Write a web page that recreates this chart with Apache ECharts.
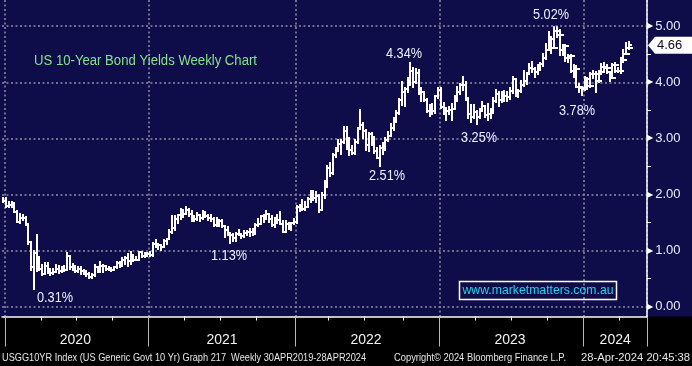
<!DOCTYPE html>
<html><head><meta charset="utf-8">
<script src="https://cdn.jsdelivr.net/npm/echarts/dist/echarts.min.js"></script>
<style>html,body{margin:0;padding:0;background:#000;}#c{width:692px;height:366px;}</style>
</head><body><div id="c"></div>
<script>
// ---------------- DATA ----------------
// weekly bars (Friday), first slot = week ending 27 Dec 2019
const firstWeekUTC = [2019, 11, 27];
const weekSlots = 233; // visible weekly slots on the axis (incl. empty ones to the right)

const open = [
1.92,
1.88,1.79,1.82,1.84,1.68,1.51,1.58,1.59,1.47,1.15,0.71,0.96,0.85,
0.68,0.59,0.73,0.65,0.60,0.62,0.68,0.64,0.66,0.65,0.90,0.70,0.70,
0.64,0.67,0.64,0.63,0.59,0.53,0.56,0.71,0.63,0.72,0.72,0.67,0.69,
0.66,0.70,0.78,0.74,0.84,0.87,0.82,0.89,0.83,0.84,0.97,0.90,0.95,
0.94,0.92,1.12,1.09,1.10,1.07,1.17,1.21,1.34,1.41,1.57,1.63,1.72,
1.66,1.72,1.66,1.58,1.56,1.63,1.58,1.63,1.62,1.59,1.56,1.45,1.45,
1.53,1.43,1.36,1.30,1.28,1.23,1.30,1.28,1.26,1.31,1.33,1.34,1.37,
1.46,1.47,1.61,1.57,1.65,1.56,1.45,1.58,1.54,1.48,1.34,1.48,1.40,
1.49,
1.51,1.77,1.78,1.75,1.78,1.92,1.92,1.93,1.97,1.73,2.00,2.15,2.48,
2.39,2.71,2.83,2.90,2.94,3.13,2.93,2.79,2.74,2.94,3.16,3.23,3.13,
2.88,3.08,2.93,2.77,2.65,2.83,2.84,2.98,3.04,3.19,3.32,3.45,3.69,
3.83,3.88,4.02,4.21,4.01,4.16,3.81,3.83,3.68,3.49,3.58,3.48,3.75,
3.87,3.56,3.51,3.48,3.50,3.53,3.74,3.82,3.95,3.96,3.70,3.43,3.38,
3.47,3.39,3.51,3.57,3.42,3.44,3.46,3.67,3.80,3.69,3.74,3.76,3.74,
3.84,4.06,3.83,3.84,3.95,4.03,4.15,4.25,4.24,4.18,4.26,4.33,4.43,
4.57,4.78,4.78,4.61,4.91,4.84,4.57,4.65,4.44,4.47,4.20,4.23,3.91,
3.90,
3.88,4.05,3.94,4.14,4.14,4.02,4.18,4.28,4.25,4.18,4.08,4.31,4.20,
4.20,4.40,4.50,4.62
];
const high = [
1.94,
1.93,1.87,1.86,1.85,1.70,1.66,1.64,1.60,1.47,1.16,1.00,1.28,0.89,
0.74,0.78,0.78,0.68,0.67,0.74,0.72,0.71,0.72,0.95,0.91,0.77,0.73,
0.70,0.70,0.66,0.63,0.60,0.58,0.75,0.71,0.79,0.74,0.73,0.71,0.69,
0.71,0.79,0.79,0.87,0.89,0.94,0.97,0.92,0.88,0.98,0.97,0.96,0.96,
0.97,1.13,1.19,1.12,1.10,1.19,1.21,1.36,1.61,1.62,1.64,1.75,1.73,
1.77,1.75,1.70,1.62,1.67,1.63,1.70,1.69,1.63,1.63,1.58,1.59,1.55,
1.54,1.44,1.42,1.32,1.30,1.31,1.37,1.30,1.35,1.35,1.38,1.39,1.48,
1.57,1.62,1.64,1.70,1.65,1.61,1.59,1.64,1.69,1.52,1.53,1.50,1.50,
1.56,
1.80,1.81,1.90,1.86,1.93,2.06,2.06,2.05,1.99,2.03,2.24,2.50,2.56,
2.73,2.83,2.98,2.98,3.20,3.20,3.00,2.87,2.97,3.18,3.50,3.28,3.15,
3.10,3.10,3.03,2.83,2.87,2.91,3.00,3.11,3.26,3.36,3.49,3.71,4.00,
3.90,4.08,4.34,4.26,4.23,4.22,3.89,3.83,3.70,3.60,3.61,3.76,3.90,
3.89,3.63,3.55,3.56,3.61,3.75,3.92,3.97,4.09,4.01,3.72,3.60,3.60,
3.49,3.53,3.64,3.57,3.61,3.53,3.72,3.86,3.82,3.82,3.84,3.82,3.89,
4.09,4.06,3.87,4.02,4.20,4.17,4.33,4.36,4.25,4.31,4.35,4.51,4.69,
4.89,4.80,5.00,5.02,4.93,4.67,4.67,4.49,4.48,4.30,4.29,3.97,3.91,
4.10,4.07,4.17,4.20,4.18,4.20,4.33,4.35,4.31,4.19,4.33,4.34,4.26,
4.43,4.58,4.70,4.71
];
const low = [
1.86,
1.77,1.77,1.78,1.68,1.51,1.50,1.55,1.45,1.11,0.66,0.31,0.64,0.66,
0.56,0.58,0.60,0.56,0.58,0.61,0.60,0.62,0.63,0.65,0.67,0.66,0.62,
0.62,0.58,0.58,0.55,0.52,0.51,0.55,0.62,0.62,0.62,0.65,0.66,0.63,
0.65,0.69,0.71,0.72,0.76,0.73,0.76,0.82,0.83,0.83,0.89,0.89,0.90,
0.90,0.90,1.06,1.03,1.01,1.06,1.12,1.20,1.32,1.36,1.50,1.57,1.60,
1.66,1.62,1.53,1.53,1.55,1.53,1.56,1.60,1.54,1.52,1.43,1.43,1.43,
1.42,1.25,1.28,1.13,1.17,1.17,1.28,1.22,1.24,1.27,1.26,1.28,1.30,
1.44,1.47,1.51,1.57,1.51,1.43,1.42,1.50,1.47,1.33,1.34,1.38,1.37,
1.47,
1.50,1.70,1.73,1.72,1.77,1.86,1.90,1.87,1.68,1.72,1.94,2.13,2.33,
2.37,2.66,2.77,2.72,2.91,2.81,2.71,2.72,2.72,2.92,3.16,3.01,2.79,
2.78,2.89,2.74,2.65,2.51,2.73,2.80,2.95,3.04,3.15,3.29,3.44,3.59,
3.57,3.83,3.95,3.92,3.98,3.80,3.67,3.67,3.47,3.40,3.43,3.45,3.72,
3.55,3.43,3.32,3.43,3.33,3.53,3.67,3.80,3.87,3.68,3.37,3.29,3.37,
3.25,3.37,3.49,3.38,3.33,3.37,3.45,3.64,3.57,3.64,3.66,3.67,3.70,
3.81,3.76,3.73,3.83,3.94,3.97,4.14,4.18,4.09,4.15,4.22,4.29,4.42,
4.57,4.53,4.61,4.80,4.48,4.49,4.38,4.36,4.19,4.10,3.91,3.83,3.78,
3.86,3.92,3.92,4.08,3.82,4.00,4.14,4.22,4.16,4.03,4.08,4.19,4.18,
4.17,4.36,4.50,4.59
];
const close = [
1.88,
1.79,1.82,1.84,1.68,1.51,1.58,1.59,1.47,1.15,0.71,0.96,0.85,0.68,
0.59,0.73,0.65,0.60,0.62,0.68,0.64,0.66,0.65,0.90,0.70,0.70,0.64,
0.67,0.64,0.63,0.59,0.53,0.56,0.71,0.63,0.72,0.72,0.67,0.69,0.66,
0.70,0.78,0.74,0.84,0.87,0.82,0.89,0.83,0.84,0.97,0.90,0.95,0.94,
0.92,1.12,1.09,1.10,1.07,1.17,1.21,1.34,1.41,1.57,1.63,1.72,1.66,
1.72,1.66,1.58,1.56,1.63,1.58,1.63,1.62,1.59,1.56,1.45,1.45,1.53,
1.43,1.36,1.30,1.28,1.23,1.30,1.28,1.26,1.31,1.33,1.34,1.37,1.46,
1.47,1.61,1.57,1.65,1.56,1.45,1.58,1.54,1.48,1.34,1.48,1.40,1.49,
1.51,
1.77,1.78,1.75,1.78,1.92,1.92,1.93,1.97,1.73,2.00,2.15,2.48,2.39,
2.71,2.83,2.90,2.94,3.13,2.93,2.79,2.74,2.94,3.16,3.23,3.13,2.88,
3.08,2.93,2.77,2.65,2.83,2.84,2.98,3.04,3.19,3.32,3.45,3.69,3.83,
3.88,4.02,4.21,4.01,4.16,3.81,3.83,3.68,3.49,3.58,3.48,3.75,3.87,
3.56,3.51,3.48,3.50,3.53,3.74,3.82,3.95,3.96,3.70,3.43,3.38,3.47,
3.39,3.51,3.57,3.42,3.44,3.46,3.67,3.80,3.69,3.74,3.76,3.74,3.84,
4.06,3.83,3.84,3.95,4.03,4.15,4.25,4.24,4.18,4.26,4.33,4.43,4.57,
4.78,4.61,4.91,4.84,4.57,4.65,4.44,4.47,4.20,4.23,3.91,3.90,3.88,
4.05,3.94,4.14,4.14,4.02,4.18,4.28,4.25,4.18,4.08,4.31,4.20,4.20,
4.40,4.50,4.62,4.67
];
const yTicks = [0, 1, 2, 3, 4, 5];
const lastValue = 4.66;
const titleText = 'US 10-Year Bond Yields Weekly Chart';
const noteTexts = ['5.02%', '4.34%', '3.78%', '3.25%', '2.51%', '1.13%', '0.31%'];
const siteText = 'www.marketmatters.com.au';
const footerTexts = [
  'USGG10YR Index (US Generic Govt 10 Yr) Graph 217  Weekly 30APR2019-28APR2024',
  'Copyright\u00A9 2024 Bloomberg Finance L.P.',
  '28-Apr-2024 20:45:38'
];

// ---------------- AXIS CATEGORIES ----------------
const weeks = [];
for (let i = 0; i < weekSlots; i++) {
  const d = new Date(Date.UTC(firstWeekUTC[0], firstWeekUTC[1], firstWeekUTC[2] + 7 * i));
  weeks.push(d.toISOString().slice(0, 10));
}
const yearOf = i => +weeks[i].slice(0, 4);
const monthOf = i => +weeks[i].slice(5, 7);
const yearStarts = [];
const quarterStarts = new Set();
for (let i = 1; i < weekSlots; i++) {
  if (yearOf(i) !== yearOf(i - 1)) yearStarts.push(i);
  if (monthOf(i) !== monthOf(i - 1) && (monthOf(i) - 1) % 3 === 0) quarterStarts.add(i);
}
const yearStartSet = new Set(yearStarts);
const labelIdx = new Set();
const bounds = yearStarts.concat([weekSlots]);
for (let k = 0; k < yearStarts.length; k++) labelIdx.add(Math.floor((bounds[k] + bounds[k + 1] - 1) / 2));

const rows = open.map((o, i) => [i, o, high[i], low[i], close[i]]);

// ---------------- STYLE ----------------
const NAVY = '#0f0d49';
const FONT = '"Liberation Sans", Arial, sans-serif';
const gridLine = { color: '#8e8e9e', width: 1.5, type: [2, 2.5] };
const mctx = document.createElement('canvas').getContext('2d');
function fit(text, px, width) {
  mctx.font = px + 'px "Liberation Sans"';
  return width / mctx.measureText(text).width;
}
function txt(text, x, y, px, fill, width, align) {
  return {
    type: 'text', x: x, y: y, z: 100, silent: true,
    scaleX: width ? fit(text, px, width) : 1,
    style: { text: text, x: 0, y: 0, fontSize: px, fontFamily: FONT, fill: fill,
             align: align || 'left', verticalAlign: 'middle' }
  };
}

function renderItem(params, api) {
  const i = api.value(0);
  const pO = api.coord([i, api.value(1)]);
  const pH = api.coord([i, api.value(2)]);
  const pL = api.coord([i, api.value(3)]);
  const pC = api.coord([i, api.value(4)]);
  const bw = api.size([1, 0])[0];
  const x = Math.round(pH[0]);
  const tl = Math.max(2, Math.round(bw * 0.6));
  const st = { stroke: '#ffffff', lineWidth: 2, lineCap: 'square' };
  return {
    type: 'group',
    children: [
      { type: 'line', shape: { x1: x, y1: Math.round(pH[1]), x2: x, y2: Math.round(pL[1]) }, style: st },
      { type: 'line', shape: { x1: x - tl, y1: Math.round(pO[1]), x2: x, y2: Math.round(pO[1]) }, style: st },
      { type: 'line', shape: { x1: x, y1: Math.round(pC[1]), x2: x + tl, y2: Math.round(pC[1]) }, style: st }
    ]
  };
}

const chart = echarts.init(document.getElementById('c'), null, { renderer: 'canvas' });
chart.setOption({
  backgroundColor: NAVY,
  animation: false,
  grid: [
    { left: 2, right: 45, top: 0, bottom: 49.5 },
    { left: 2, right: 45, top: 26.2, bottom: 59.3 },
    { left: 2, right: 45, top: 0, bottom: 49.5 }
  ],
  xAxis: [
    { gridIndex: 0, type: 'category', data: weeks, boundaryGap: true,
      axisLine: { show: true, lineStyle: { color: '#ffffff', width: 1.5 } },
      axisTick: { show: true, length: 4, interval: i => quarterStarts.has(i), lineStyle: { color: '#ffffff', width: 1 } },
      axisLabel: { show: false },
      splitLine: { show: true, interval: i => yearStartSet.has(i), lineStyle: gridLine } },
    { gridIndex: 1, type: 'category', data: weeks, boundaryGap: true, show: false },
    { gridIndex: 2, type: 'category', data: weeks, boundaryGap: true,
      axisLine: { show: false },
      axisTick: { show: true, length: 30, interval: i => yearStartSet.has(i), lineStyle: { color: '#b8b8b8', width: 1 } },
      axisLabel: { show: true, interval: i => labelIdx.has(i), formatter: v => v.slice(0, 4),
                   color: '#f2f2f2', fontSize: 14, fontFamily: FONT, margin: 17 },
      splitLine: { show: false } }
  ],
  yAxis: [
    { gridIndex: 0, type: 'value', position: 'right', min: 0, max: 1,
      axisLine: { show: true, lineStyle: { color: '#ffffff', width: 1.5 } },
      axisTick: { show: false }, axisLabel: { show: false }, splitLine: { show: false } },
    { gridIndex: 1, type: 'value', position: 'right', min: yTicks[0], max: yTicks[yTicks.length - 1], interval: 1,
      axisLine: { show: false },
      axisTick: { show: true, length: 0 },
      minorTick: { show: true, splitNumber: 2, length: 4, lineStyle: { color: '#ffffff', width: 1 } },
      axisLabel: { margin: 0, formatter: v => '{t|\u25B6}' + v.toFixed(2), color: '#e6ecff',
                   fontSize: 13, fontFamily: FONT,
                   rich: { t: { fontSize: 8, color: '#ffffff', fontFamily: 'DejaVu Sans', padding: [0, 2, 0, 0] } } },
      splitLine: { show: true, lineStyle: gridLine } },
    { gridIndex: 2, type: 'value', show: false }
  ],
  series: [{
    type: 'custom', xAxisIndex: 1, yAxisIndex: 1, renderItem: renderItem,
    data: rows, encode: { x: 0, y: [1, 2, 3, 4] }, clip: true
  }]
});

const tagY = chart.convertToPixel({ yAxisIndex: 1 }, lastValue);
const notePos = [[551, 15], [404, 54], [577, 111.5], [479, 138.5], [387, 176], [229, 256.5], [55, 298]];
const graphics = [
  { type: 'rect', z: -100, silent: true, shape: { x: 0, y: 316.5, width: 692, height: 50 }, style: { fill: '#000000' } },
  txt(titleText, 34, 61, 14, '#86e28a', 223),
  { type: 'rect', z: 100, silent: true, shape: { x: 459.5, y: 281.5, width: 157, height: 18 },
    style: { fill: 'none', stroke: '#ffffff', lineWidth: 1.5 } },
  txt(siteText, 538, 290.5, 13, '#22d3ee', 151, 'center'),
  txt(footerTexts[0], 2, 358, 11, '#e6e6e6', 364),
  txt(footerTexts[1], 394, 358, 11, '#e6e6e6', 172),
  txt(footerTexts[2], 581, 358, 11, '#e6e6e6', 109),
  { type: 'polygon', z: 100, silent: true,
    shape: { points: [[648, tagY], [655, tagY - 8.5], [692, tagY - 8.5], [692, tagY + 8.5], [655, tagY + 8.5]] },
    style: { fill: '#ffffff' } },
  txt(lastValue.toFixed(2), 657, tagY, 13, '#0a0a20')
];
noteTexts.forEach((t, k) => graphics.push(txt(t, notePos[k][0], notePos[k][1], 14, '#e8f0ff', 36, 'center')));
chart.setOption({ graphic: graphics });
</script></body></html>
